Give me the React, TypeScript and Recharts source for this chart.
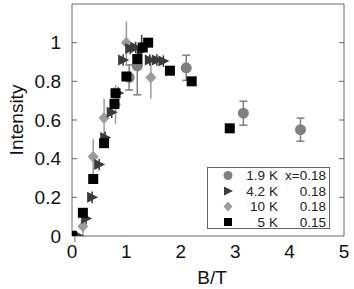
import React from "react";
import { ScatterChart, Scatter, XAxis, YAxis, ErrorBar, Legend } from "recharts";

const AXIS = "#666";
const TEXT = "#111";

const xTicks = [0, 1, 2, 3, 4, 5];
const yTicks = [0, 0.2, 0.4, 0.6, 0.8, 1];
const innerXTicks = [1, 2, 3, 4];
const innerYTicks = [0.2, 0.4, 0.6, 0.8, 1];

// [B/T, intensity, error]
const k19: [number, number, number | number[]][] = [
  [0.03, 0, 0],
  [1.05, 0.82, 0.065],
  [1.2, 0.88, [0.15, 0.04]],
  [2.1, 0.87, 0.065],
  [3.15, 0.635, 0.062],
  [4.2, 0.55, 0.06],
];
const k42: [number, number, number][] = [
  [0, 0, 0],
  [0.12, 0, 0],
  [0.26, 0.09, 0.03],
  [0.37, 0.2, 0.03],
  [0.5, 0.37, 0.03],
  [0.61, 0.51, 0.03],
  [0.73, 0.64, 0.03],
  [0.85, 0.74, 0.03],
  [0.94, 0.91, 0.03],
  [1.07, 0.97, 0.03],
  [1.17, 0.975, 0.03],
  [1.28, 0.96, 0.08],
  [1.43, 0.91, 0.03],
  [1.56, 0.91, 0.03],
  [1.68, 0.905, 0.03],
];
const k10: [number, number, number][] = [
  [0.05, 0, 0.03],
  [0.2, 0.05, 0.05],
  [0.39, 0.41, 0.09],
  [0.59, 0.61, 0.1],
  [0.8, 0.68, 0.1],
  [1.0, 1.0, 0.11],
  [1.45, 0.82, 0.11],
];
const k5: [number, number][] = [
  [0, 0],
  [0.2, 0.12],
  [0.39, 0.295],
  [0.59, 0.48],
  [0.78, 0.683],
  [0.8, 0.738],
  [1.0, 0.825],
  [1.2, 0.915],
  [1.3, 0.975],
  [1.4, 1.0],
  [1.8, 0.855],
  [2.2, 0.8],
  [2.9, 0.557],
];

const temps = ["1.9", "4.2", "10", "5"];
const comps = ["x=0.18", "0.18", "0.18", "0.15"];

const toPts = (rows: any[]) => rows.map((r) => ({ x: r[0], y: r[1], err: r[2] ?? 0 }));

const COL = { c: "#7f7f7f", t: "#3a3a3a", d: "#9c9c9c", s: "#000" };

const Circle = ({ cx, cy }: any) => <circle cx={cx} cy={cy} r={5.5} fill={COL.c} />;
const Tri = ({ cx, cy }: any) => (
  <polygon points={`${cx - 5},${cy - 5.5} ${cx + 6},${cy} ${cx - 5},${cy + 5.5}`} fill={COL.t} />
);
const Diamond = ({ cx, cy }: any) => (
  <polygon points={`${cx},${cy - 6} ${cx + 5.5},${cy} ${cx},${cy + 6} ${cx - 5.5},${cy}`} fill={COL.d} />
);
const Square = ({ cx, cy }: any) => <rect x={cx - 5} y={cy - 5} width={10} height={10} fill={COL.s} />;

const noTick = () => <g />;

function LegendBox() {
  const marks = [
    (x: number, y: number) => <circle cx={x} cy={y} r={4.5} fill={COL.c} />,
    (x: number, y: number) => <polygon points={`${x - 4},${y - 4.5} ${x + 5},${y} ${x - 4},${y + 4.5}`} fill={COL.t} />,
    (x: number, y: number) => <polygon points={`${x},${y - 5} ${x + 4.5},${y} ${x},${y + 5} ${x - 4.5},${y}`} fill={COL.d} />,
    (x: number, y: number) => <rect x={x - 4} y={y - 4} width={8} height={8} fill={COL.s} />,
  ];
  return (
    <svg width={123} height={62} style={{ display: "block" }}>
      <rect x={0.5} y={0.5} width={122} height={61} fill="#fff" stroke={AXIS} />
      {temps.map((t, i) => {
        const cy = 8.5 + i * 15.5;
        return (
          <g key={t} fontSize={13.5} fill="#222">
            {marks[i](21, cy)}
            <text x={58} y={cy + 4.8} textAnchor="end">{t}</text>
            <text x={62} y={cy + 4.8}>K</text>
            <text x={119} y={cy + 4.8} textAnchor="end">{comps[i]}</text>
          </g>
        );
      })}
    </svg>
  );
}

export default function App() {
  return (
    <div
      style={{
        position: "absolute",
        left: 0,
        top: 0,
        width: 354,
        height: 289,
        background: "#fff",
        fontFamily: "'Liberation Sans', Arial, sans-serif",
      }}
    >
      <ScatterChart width={354} height={289} margin={{ top: 4, right: 10, left: 0, bottom: 0 }}>
        <XAxis
          xAxisId="x"
          type="number"
          dataKey="x"
          domain={[0, 5]}
          ticks={xTicks}
          allowDataOverflow
          interval={0}
          height={53}
          tickLine={false}
          tickSize={0}
          tickMargin={9}
          axisLine={{ stroke: AXIS }}
          tick={{ fontSize: 19, fill: TEXT }}
          label={{ value: "B/T", position: "insideBottom", offset: 5, fontSize: 19, fill: TEXT, dx: 4 }}
        />
        <XAxis xAxisId="xb" type="number" domain={[0, 5]} ticks={innerXTicks} allowDataOverflow interval={0}
          mirror axisLine={false} tickSize={5} tickLine={{ stroke: AXIS }} tick={noTick} />
        <XAxis xAxisId="xt" orientation="top" type="number" domain={[0, 5]} ticks={innerXTicks} allowDataOverflow interval={0}
          mirror axisLine={{ stroke: AXIS }} tickSize={5} tickLine={{ stroke: AXIS }} tick={noTick} />
        <YAxis
          yAxisId="y"
          type="number"
          dataKey="y"
          domain={[0, 1.2]}
          ticks={yTicks}
          allowDataOverflow
          interval={0}
          width={72}
          tickLine={false}
          tickSize={0}
          tickMargin={11}
          axisLine={{ stroke: AXIS }}
          tick={{ fontSize: 19, fill: TEXT }}
          tickFormatter={(v: number) => String(v)}
          label={{ value: "Intensity", angle: -90, position: "insideLeft", offset: 16, fontSize: 19, fill: TEXT, style: { textAnchor: "middle" } }}
        />
        <YAxis yAxisId="yl" type="number" domain={[0, 1.2]} ticks={innerYTicks} allowDataOverflow interval={0}
          mirror axisLine={false} tickSize={5} tickLine={{ stroke: AXIS }} tick={noTick} />
        <YAxis yAxisId="yr" orientation="right" type="number" domain={[0, 1.2]} ticks={innerYTicks} allowDataOverflow interval={0}
          mirror axisLine={{ stroke: AXIS }} tickSize={5} tickLine={{ stroke: AXIS }} tick={noTick} />

        <Scatter name="10 K" xAxisId="x" yAxisId="y" data={toPts(k10)} shape={Diamond} isAnimationActive={false}>
          <ErrorBar dataKey="err" direction="y" width={0} stroke={COL.d} strokeWidth={1.5} isAnimationActive={false} />
        </Scatter>
        <Scatter name="1.9 K" xAxisId="x" yAxisId="y" data={toPts(k19)} shape={Circle} isAnimationActive={false}>
          <ErrorBar dataKey="err" direction="y" width={4} stroke={COL.c} strokeWidth={1.5} isAnimationActive={false} />
        </Scatter>
        <Scatter name="4.2 K" xAxisId="x" yAxisId="y" data={toPts(k42)} shape={Tri} isAnimationActive={false}>
          <ErrorBar dataKey="err" direction="y" width={0} stroke={COL.t} strokeWidth={1.5} isAnimationActive={false} />
        </Scatter>
        <Scatter name="5 K" xAxisId="x" yAxisId="y" data={toPts(k5)} shape={Square} isAnimationActive={false} />

        <Legend
          layout="vertical"
          verticalAlign="middle"
          align="center"
          content={() => <LegendBox />}
          wrapperStyle={{ left: 207, top: 167, width: 123, height: 62 }}
        />
      </ScatterChart>
    </div>
  );
}
